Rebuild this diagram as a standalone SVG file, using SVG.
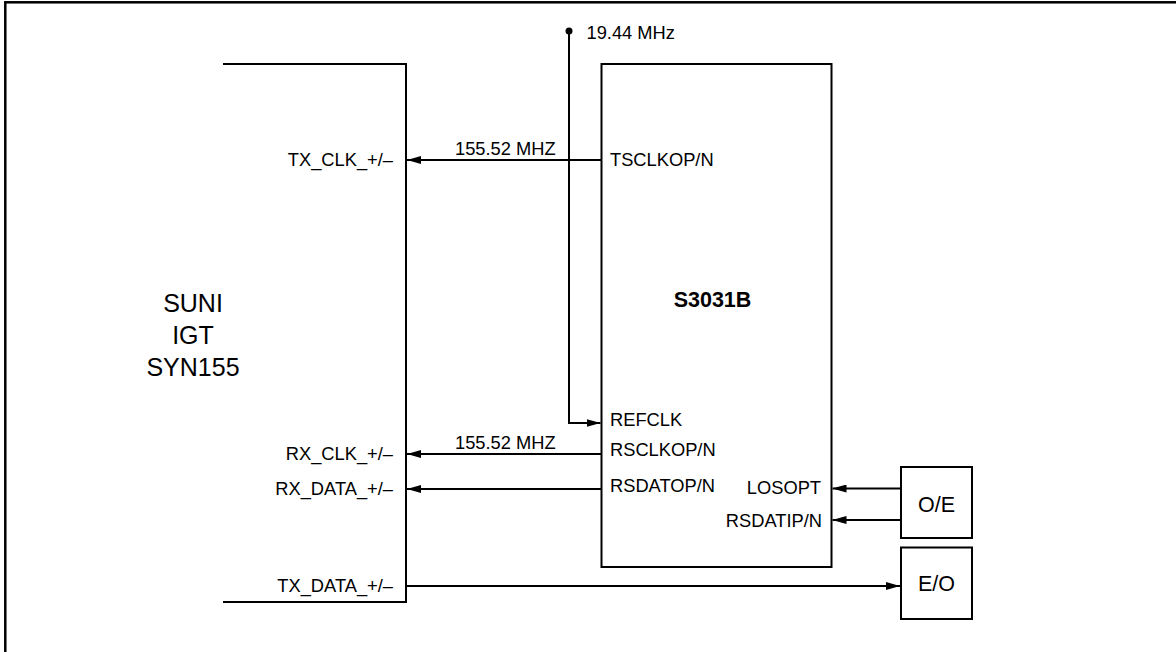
<svg xmlns="http://www.w3.org/2000/svg" width="1176" height="652" viewBox="0 0 1176 652">
<defs>
<marker id="ah" viewBox="0 0 14 8" refX="14" refY="4" markerWidth="14" markerHeight="8" markerUnits="userSpaceOnUse" orient="auto">
<path d="M0,0 L14,4 L0,8 Z" fill="#000"/>
</marker>
<style>
.ln{fill:none;stroke:#000;stroke-width:2}
.t{font-family:"Liberation Sans",Arial,sans-serif;font-size:18.3px;fill:#000}
.r{text-anchor:end}
.big{font-family:"Liberation Sans",Arial,sans-serif;font-size:25px;fill:#000;text-anchor:middle}
.b{font-family:"Liberation Sans",Arial,sans-serif;font-size:21.5px;font-weight:bold;fill:#000;text-anchor:middle}
.box{font-family:"Liberation Sans",Arial,sans-serif;font-size:21.5px;fill:#000;text-anchor:middle}
</style>
</defs>
<rect x="0" y="0" width="1176" height="652" fill="#fff"/>
<rect x="5.3" y="2.3" width="1200" height="700" fill="none" stroke="#000" stroke-width="2.5"/>

<g id="suni">
<path class="ln" d="M223,64 H406 V602 H223"/>
<text class="big" x="193" y="312">SUNI</text>
<text class="big" x="193" y="344">IGT</text>
<text class="big" x="193" y="376">SYN155</text>
<text class="t r" x="393" y="166">TX_CLK_+/–</text>
<text class="t r" x="393" y="460">RX_CLK_+/–</text>
<text class="t r" x="393" y="495">RX_DATA_+/–</text>
<text class="t r" x="393" y="592">TX_DATA_+/–</text>
</g>

<g id="s3031b">
<rect class="ln" x="601.5" y="64" width="230" height="503"/>
<text class="b" x="712.5" y="306.5">S3031B</text>
<text class="t" x="610" y="166">TSCLKOP/N</text>
<text class="t" x="610" y="426">REFCLK</text>
<text class="t" x="610" y="456">RSCLKOP/N</text>
<text class="t" x="610" y="492">RSDATOP/N</text>
<text class="t r" x="821" y="494">LOSOPT</text>
<text class="t r" x="822" y="527">RSDATIP/N</text>
</g>

<g id="oe">
<rect class="ln" x="901" y="467" width="71" height="71"/>
<text class="box" x="936.5" y="511.5">O/E</text>
</g>

<g id="eo">
<rect class="ln" x="901" y="547.5" width="71" height="71.5"/>
<text class="box" x="936.5" y="591">E/O</text>
</g>

<g id="clk">
<circle cx="569" cy="31" r="3.5" fill="#000"/>
<text class="t" x="586.5" y="38.5">19.44 MHz</text>
</g>

<g id="connectors">
<line class="ln" x1="601.5" y1="160" x2="407" y2="160" marker-end="url(#ah)"/>
<text class="t" x="455" y="155">155.52 MHZ</text>
<path class="ln" d="M569,31 V423 H600.5" marker-end="url(#ah)"/>
<line class="ln" x1="601.5" y1="454" x2="407" y2="454" marker-end="url(#ah)"/>
<text class="t" x="455" y="449">155.52 MHZ</text>
<line class="ln" x1="601.5" y1="489" x2="407" y2="489" marker-end="url(#ah)"/>
<line class="ln" x1="901" y1="488.5" x2="832.5" y2="488.5" marker-end="url(#ah)"/>
<line class="ln" x1="901" y1="520" x2="832.5" y2="520" marker-end="url(#ah)"/>
<line class="ln" x1="406" y1="586" x2="900" y2="586" marker-end="url(#ah)"/>
</g>
</svg>
